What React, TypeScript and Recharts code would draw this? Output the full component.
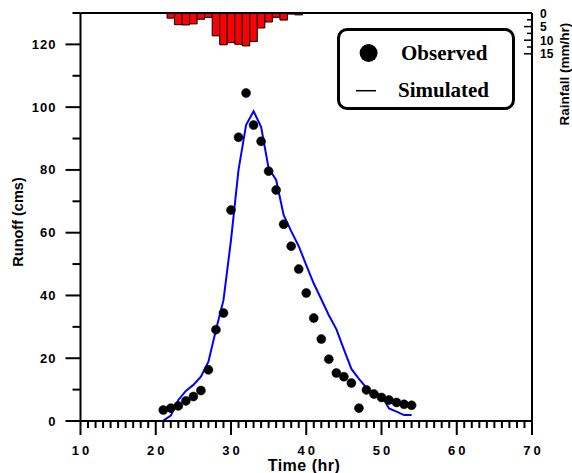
import React from "react";
import {
  ComposedChart,
  Bar,
  Line,
  XAxis,
  YAxis,
  Legend,
  ReferenceLine,
} from "recharts";

// hourly time steps (hr)
const hours = [
  21, 22, 23, 24, 25, 26, 27, 28, 29, 30, 31, 32, 33, 34, 35, 36, 37,
  38, 39, 40, 41, 42, 43, 44, 45, 46, 47, 48, 49, 50, 51, 52, 53, 54,
];

// observed runoff (cms)
const observed = [
  3.5, 4.1, 4.8, 6.4, 7.8, 9.7, 16.3, 29.1, 34.4, 67.2, 90.4, 104.5, 94.3,
  89.1, 79.6, 73.6, 62.7, 55.7, 48.4, 40.8, 32.8, 26.1, 19.7, 15.3, 14.1,
  12.1, 4.1, 9.9, 8.6, 7.5, 6.7, 5.9, 5.3, 5.0,
];

// simulated runoff (cms)
const simulated = [
  0.1, 1.7, 6.7, 9.6, 11.5, 14.1, 18.9, 29, 38.5, 57.6, 80, 94.3, 98.7,
  93.7, 80.5, 76.8, 65.6, 60.5, 55.7, 49.7, 43.8, 38.8, 33.7, 29.3, 22.8,
  16.6, 13.4, 10.6, 9, 8.1, 4, 3, 1.9, 1.9,
];

// rainfall hyetograph (mm/hr)
const rainHours = [22, 23, 24, 25, 26, 27, 28, 29, 30, 31, 32, 33, 34, 35, 36, 37, 38, 39];
const rainfall = [1.9, 4.3, 4.4, 4.0, 2.3, 1.6, 8.4, 11.7, 10.9, 11.5, 12.1, 10.5, 5.5, 3.3, 1.6, 2.6, 0.4, 0.7];

const xMajorTicks = [10, 20, 30, 40, 50, 60, 70];
const xTicks = Array.from({ length: 61 }, (_, i) => 10 + i);
const yTicks = [0, 10, 20, 30, 40, 50, 60, 70, 80, 90, 100, 110, 120, 130];
const rainTicks = [0, 2.5, 5, 7.5, 10, 12.5, 15];

const rows = hours.map((t, i) => {
  const k = rainHours.indexOf(t);
  return {
    t,
    obs: observed[i],
    sim: simulated[i],
    rain: k >= 0 ? rainfall[k] : undefined,
  };
});

const SANS = "'Liberation Sans', Arial, sans-serif";
const SERIF = "'Liberation Serif', 'Times New Roman', serif";

const XTick = (props: any) => {
  const { x, y, payload } = props;
  const major = xMajorTicks.includes(payload.value);
  return (
    <g>
      <line x1={x} y1={y} x2={x} y2={y + (major ? 14 : 7)} stroke="#000" strokeWidth={2} />
      {major && (
        <text
          x={x + 1.5}
          y={y + 34}
          textAnchor="middle"
          fontFamily={SANS}
          fontWeight="bold"
          fontSize={13}
          letterSpacing={3}
          fill="#000"
        >
          {payload.value}
        </text>
      )}
    </g>
  );
};

const YTick = (props: any) => {
  const { x, y, payload } = props;
  const major = payload.value % 20 === 0;
  return (
    <g>
      <line x1={x} y1={y} x2={x - (major ? 15 : 8)} y2={y} stroke="#000" strokeWidth={2} />
      {major && (
        <text
          x={x - 24}
          y={y + 4.5}
          textAnchor="end"
          fontFamily={SANS}
          fontWeight="bold"
          fontSize={13}
          letterSpacing={1}
          fill="#000"
        >
          {payload.value}
        </text>
      )}
    </g>
  );
};

const RainTick = (props: any) => {
  const { x, y, payload } = props;
  const major = payload.value % 5 === 0;
  return (
    <g>
      <line x1={x} y1={y} x2={x - (major ? 8 : 5)} y2={y} stroke="#000" strokeWidth={1.5} />
      {major && (
        <text
          x={x + 8}
          y={y + 4.5}
          textAnchor="start"
          fontFamily={SANS}
          fontWeight="bold"
          fontSize={12}
          fill="#000"
        >
          {payload.value}
        </text>
      )}
    </g>
  );
};

const LegendBox = () => (
  <div
    style={{
      width: 178,
      height: 82,
      boxSizing: "border-box",
      border: "3px solid #000",
      borderRadius: 10,
      background: "#fff",
    }}
  >
    <svg width={172} height={76} style={{ display: "block" }}>
      <circle cx={28.6} cy={22} r={9} fill="#000" />
      <text x={61} y={29} fontFamily={SERIF} fontWeight="bold" fontSize={21} fill="#000">
        Observed
      </text>
      <line x1={16} y1={59.7} x2={36} y2={59.7} stroke="#000" strokeWidth={1.5} />
      <text x={58} y={66} fontFamily={SERIF} fontWeight="bold" fontSize={21} fill="#000">
        Simulated
      </text>
    </svg>
  </div>
);

const App: React.FC = () => {
  return (
    <div style={{ position: "absolute", left: 0, top: 0, background: "#fff" }}>
      <ComposedChart
        width={572}
        height={473}
        data={rows}
        margin={{ top: 13, right: 0, left: 0, bottom: 0 }}
      >
        <XAxis
          dataKey="t"
          type="number"
          domain={[10, 70]}
          ticks={xTicks}
          interval={0}
          height={52}
          tickSize={0}
          tickMargin={0}
          tickLine={false}
          tick={<XTick />}
          axisLine={{ stroke: "#000", strokeWidth: 2 }}
          label={{
            content: () => (
              <text
                x={304}
                y={471}
                textAnchor="middle"
                fontFamily={SANS}
                fontWeight="bold"
                fontSize={16}
                letterSpacing={0.5}
                fill="#000"
              >
                Time (hr)
              </text>
            ),
          }}
        />
        <YAxis
          yAxisId="q"
          type="number"
          domain={[0, 130]}
          ticks={yTicks}
          interval={0}
          width={80.5}
          tickSize={0}
          tickMargin={0}
          tickLine={false}
          tick={<YTick />}
          axisLine={{ stroke: "#000", strokeWidth: 2 }}
          label={{
            content: () => (
              <text
                x={18}
                y={222}
                transform="rotate(-90 18 222)"
                textAnchor="middle"
                dominantBaseline="central"
                fontFamily={SANS}
                fontWeight="bold"
                fontSize={14.5}
                fill="#000"
              >
                Runoff (cms)
              </text>
            ),
          }}
        />
        <YAxis
          yAxisId="r"
          orientation="right"
          type="number"
          domain={[0, 150]}
          reversed
          allowDataOverflow
          ticks={rainTicks}
          interval={0}
          width={40}
          tickSize={0}
          tickMargin={0}
          tickLine={false}
          tick={<RainTick />}
          axisLine={{ stroke: "#000", strokeWidth: 2 }}
          label={{
            content: () => (
              <text
                x={564}
                y={74}
                transform="rotate(-90 564 74)"
                textAnchor="middle"
                dominantBaseline="central"
                fontFamily={SANS}
                fontWeight="bold"
                fontSize={13.5}
                fill="#000"
              >
                Rainfall (mm/hr)
              </text>
            ),
          }}
        />
        <ReferenceLine yAxisId="q" y={130} stroke="#000" strokeWidth={2} />
        <Bar
          yAxisId="r"
          dataKey="rain"
          barSize={7.5}
          fill="#ff0000"
          stroke="#000"
          strokeWidth={1}
          isAnimationActive={false}
        />
        <Line
          yAxisId="q"
          dataKey="obs"
          stroke="none"
          dot={{ r: 4.5, fill: "#000", stroke: "#000", strokeWidth: 0.5 }}
          activeDot={false}
          isAnimationActive={false}
        />
        <Line
          yAxisId="q"
          dataKey="sim"
          type="linear"
          stroke="#0000ff"
          strokeWidth={2}
          dot={false}
          activeDot={false}
          isAnimationActive={false}
        />
        <Legend
          layout="vertical"
          align="center"
          verticalAlign="middle"
          wrapperStyle={{ left: 336.7, top: 28.3, width: 178, height: 82 }}
          content={() => <LegendBox />}
        />
      </ComposedChart>
    </div>
  );
};

export default App;
